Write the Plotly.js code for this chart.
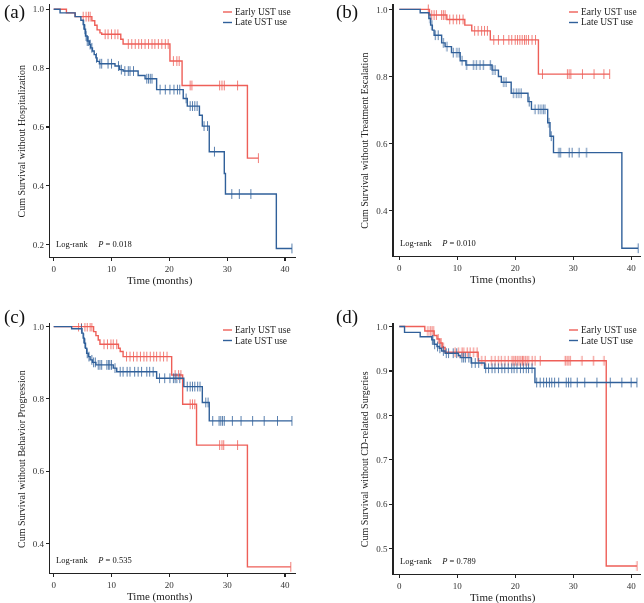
<!DOCTYPE html>
<html>
<head>
<meta charset="utf-8">
<script src="https://cdn.plot.ly/plotly-3.0.1.min.js"></script>
<style>
  html, body { margin: 0; padding: 0; background: #fff; }
  #chart { width: 644px; height: 603px; }
</style>
</head>
<body>
<div id="chart"></div>
<script>
// Series names
const groups = ['Early UST use', 'Late UST use'];
const groupColors = ['#EE5F58', '#30609A'];

// (a) Hospitalization
const aEarlyT = [0, 2.2, 3.7, 6.6, 7.1, 7.5, 8.0, 8.3, 11.6, 12.0, 20.1, 22.2, 33.5];
const aEarlyS = [1, 0.988, 0.975, 0.961, 0.946, 0.93, 0.92, 0.915, 0.898, 0.882, 0.824, 0.741, 0.494];
const aEarlyEnd = 35.4;
const aEarlyCens = [5.1, 5.6, 6.0, 6.3, 8.9, 9.4, 10.0, 10.6, 11.1, 12.9, 13.5, 14.1, 14.7, 15.2, 15.8, 16.4, 17.0, 17.5, 18.1, 18.7, 19.3, 19.8, 20.7, 21.3, 21.7, 23.6, 23.9, 28.7, 29.1, 29.5, 31.8, 35.4];
const aLateT = [0, 1.1, 3.7, 4.7, 5.1, 5.3, 5.5, 5.8, 6.2, 6.4, 6.7, 7.0, 7.3, 7.5, 7.9, 10.6, 11.4, 12.0, 14.6, 15.8, 17.8, 22.4, 23.1, 25.2, 25.7, 26.9, 29.5, 29.7, 38.5];
const aLateS = [1, 0.988, 0.975, 0.963, 0.948, 0.932, 0.909, 0.892, 0.88, 0.869, 0.858, 0.846, 0.835, 0.823, 0.815, 0.807, 0.795, 0.79, 0.775, 0.764, 0.727, 0.697, 0.671, 0.64, 0.603, 0.516, 0.442, 0.372, 0.187];
const aLateEnd = 41.2;
const aLateCens = [5.2, 5.4, 5.6, 5.8, 6.0, 6.3, 6.6, 7.4, 8.0, 8.3, 9.4, 10.0, 11.2, 11.7, 12.3, 12.9, 13.2, 13.8, 16.1, 16.4, 16.7, 17.0, 18.4, 19.3, 20.1, 20.8, 21.4, 21.8, 22.9, 23.6, 24.0, 24.4, 24.8, 26.0, 26.6, 27.8, 30.8, 32.1, 34.1, 41.2];

// (b) Treatment escalation
const bEarlyT = [0, 5.2, 8.2, 11.3, 12.5, 15.7, 24.0];
const bEarlyS = [1, 0.983, 0.97, 0.953, 0.936, 0.909, 0.807];
const bEarlyEnd = 36.3;
const bEarlyCens = [5.0, 5.6, 6.0, 6.4, 7.3, 7.6, 7.9, 8.7, 9.3, 9.9, 10.4, 11.0, 13.0, 13.6, 14.2, 14.7, 15.2, 16.3, 17.1, 18.0, 18.9, 19.4, 20.0, 20.4, 20.8, 21.2, 21.6, 21.9, 22.3, 22.9, 23.5, 24.7, 29.0, 29.3, 29.6, 31.6, 33.6, 35.3, 36.3];
const bLateT = [0, 3.6, 5.1, 5.4, 5.7, 6.0, 7.3, 7.9, 9.0, 10.5, 11.5, 16.0, 17.1, 17.6, 19.3, 22.2, 22.8, 25.6, 26.0, 26.6, 38.4];
const bLateS = [1, 0.99, 0.973, 0.953, 0.938, 0.923, 0.90, 0.889, 0.871, 0.847, 0.834, 0.819, 0.80, 0.783, 0.75, 0.725, 0.702, 0.662, 0.622, 0.573, 0.288];
const bLateEnd = 41.2;
const bLateCens = [5.3, 5.6, 6.2, 6.7, 7.6, 8.2, 9.3, 9.9, 10.3, 10.8, 11.6, 12.8, 13.3, 13.9, 14.5, 15.7, 16.1, 16.5, 18.0, 18.4, 19.7, 20.2, 20.6, 21.0, 22.4, 23.4, 24.0, 24.4, 24.8, 25.1, 25.8, 26.2, 27.5, 27.8, 29.3, 29.8, 31.0, 32.3, 41.2];

// (c) Behavior progression
const cEarlyT = [0, 6.9, 7.3, 7.7, 8.0, 11.2, 11.5, 12.0, 20.4, 22.3, 24.7, 33.5];
const cEarlyS = [1, 0.986, 0.975, 0.963, 0.951, 0.94, 0.931, 0.917, 0.866, 0.785, 0.672, 0.335];
const cEarlyEnd = 41.0;
const cEarlyCens = [4.3, 4.8, 5.4, 5.8, 6.3, 6.6, 8.7, 9.3, 9.9, 10.3, 10.9, 12.6, 13.2, 13.8, 14.4, 15.0, 15.6, 16.1, 16.7, 17.3, 17.8, 18.4, 19.0, 19.6, 21.0, 21.6, 22.0, 23.6, 24.0, 24.4, 28.7, 29.1, 29.4, 31.8, 41.0];
const cLateT = [0, 3.1, 4.9, 5.1, 5.3, 5.5, 5.7, 6.0, 6.3, 6.7, 7.3, 10.3, 10.9, 17.8, 22.5, 25.7, 26.9];
const cLateS = [1, 0.994, 0.982, 0.968, 0.954, 0.94, 0.926, 0.917, 0.908, 0.901, 0.894, 0.885, 0.875, 0.857, 0.834, 0.79, 0.739];
const cLateEnd = 41.2;
const cLateCens = [4.8, 5.2, 5.4, 5.8, 6.1, 6.6, 6.9, 7.2, 7.7, 8.0, 8.3, 9.2, 9.5, 9.7, 10.0, 10.6, 11.5, 12.0, 12.7, 13.2, 14.0, 14.6, 15.2, 16.1, 16.6, 17.2, 18.3, 19.2, 20.1, 20.7, 21.0, 21.3, 21.8, 23.1, 23.6, 24.0, 24.4, 24.9, 25.3, 26.3, 26.7, 27.5, 28.6, 28.9, 29.2, 29.5, 30.9, 32.4, 34.4, 36.4, 38.7, 41.2];

// (d) CD-related surgeries
const dEarlyT = [0, 4.4, 6.0, 6.5, 7.0, 7.4, 7.9, 13.6, 35.7];
const dEarlyS = [1, 0.99, 0.98, 0.972, 0.963, 0.953, 0.942, 0.923, 0.461];
const dEarlyEnd = 41.0;
const dEarlyCens = [4.9, 5.3, 5.6, 5.9, 6.7, 7.2, 7.6, 9.6, 10.2, 10.8, 11.1, 11.7, 12.2, 12.8, 13.4, 14.2, 14.8, 15.9, 16.5, 17.1, 17.6, 18.2, 18.8, 19.4, 19.7, 20.0, 20.3, 20.6, 20.9, 21.2, 21.4, 21.7, 22.0, 22.3, 22.9, 23.4, 24.3, 28.6, 28.9, 29.2, 29.5, 31.5, 33.5, 35.3, 41.0];
const dLateT = [0, 0.9, 3.6, 5.6, 6.0, 6.5, 6.9, 7.3, 7.9, 10.2, 10.5, 12.4, 14.7, 23.4];
const dLateS = [1, 0.987, 0.977, 0.97, 0.96, 0.955, 0.951, 0.945, 0.94, 0.935, 0.93, 0.918, 0.906, 0.874];
const dLateEnd = 41.0;
const dLateCens = [5.7, 5.8, 6.1, 6.6, 7.0, 7.6, 8.1, 8.5, 9.3, 9.9, 10.8, 11.1, 11.4, 12.0, 12.5, 13.1, 13.7, 14.9, 15.4, 16.0, 16.5, 17.1, 17.7, 18.2, 18.8, 19.4, 19.8, 20.3, 20.9, 21.4, 21.9, 22.3, 22.9, 23.7, 24.3, 24.9, 25.4, 25.9, 26.3, 26.8, 27.5, 28.8, 29.2, 29.6, 30.7, 32.0, 34.1, 36.4, 38.4, 40.0, 41.0];

const panelLabels = ['(a)', '(b)', '(c)', '(d)'];
const yTitles = ['Cum Survival without Hospitalization', 'Cum Survival without Treatment Escalation',
                 'Cum Survival without Behavior Progression', 'Cum Survival without CD-related Surgeries'];
const pValues = ['0.018', '0.010', '0.535', '0.789'];

const curves = [
  [[aEarlyT, aEarlyS, aEarlyEnd, aEarlyCens], [aLateT, aLateS, aLateEnd, aLateCens]],
  [[bEarlyT, bEarlyS, bEarlyEnd, bEarlyCens], [bLateT, bLateS, bLateEnd, bLateCens]],
  [[cEarlyT, cEarlyS, cEarlyEnd, cEarlyCens], [cLateT, cLateS, cLateEnd, cLateCens]],
  [[dEarlyT, dEarlyS, dEarlyEnd, dEarlyCens], [dLateT, dLateS, dLateEnd, dLateCens]]
];

// Layout geometry in pixels (figure is 644x603)
const W = 644, H = 603;
const panels = [
  { xdom: [50, 296],    ydom: [4, 257],   xr: [-0.64, 41.9], yr: [0.158, 1.018], dy: 0.2, label: [2, 12],     legX: 234, legY: 12 },
  { xdom: [393.7, 641], ydom: [4, 256],   xr: [-0.97, 41.7], yr: [0.265, 1.016], dy: 0.2, label: [334, 12],   legX: 580, legY: 12 },
  { xdom: [50, 296],    ydom: [323, 573], xr: [-0.64, 41.9], yr: [0.318, 1.010], dy: 0.2, label: [2, 316.5],  legX: 234, legY: 330 },
  { xdom: [393.7, 641], ydom: [323, 574], xr: [-0.97, 41.7], yr: [0.443, 1.008], dy: 0.1, label: [334, 316.5], legX: 580, legY: 330 }
];

const serif = 'Liberation Serif, Times New Roman, serif';
const px = v => v / W;
const py = v => 1 - v / H;

function survAt(t, s, time) {
  let v = s[0];
  for (let i = 0; i < t.length; i++) { if (t[i] <= time) v = s[i]; }
  return v;
}

const traces = [];
const layout = {
  width: W, height: H,
  margin: { l: 0, r: 0, t: 0, b: 0 },
  paper_bgcolor: '#fff', plot_bgcolor: '#fff',
  showlegend: false,
  annotations: [], shapes: []
};

panels.forEach((p, i) => {
  const n = i === 0 ? '' : String(i + 1);
  const xa = 'x' + n, ya = 'y' + n;
  const axCommon = {
    showgrid: false, zeroline: false, showline: true, linecolor: '#222', linewidth: 1.3,
    ticks: 'outside', ticklen: 3, tickwidth: 1.1, tickcolor: '#222',
    tickfont: { family: serif, size: 9, color: '#333' }
  };
  layout['xaxis' + n] = Object.assign({}, axCommon, {
    domain: [px(p.xdom[0]), px(p.xdom[1])], range: p.xr, anchor: ya,
    tick0: 0, dtick: 10
  });
  layout['yaxis' + n] = Object.assign({}, axCommon, {
    domain: [py(p.ydom[1]), py(p.ydom[0])], range: p.yr, anchor: xa,
    tick0: 0, dtick: p.dy, tickformat: '.1f'
  });

  curves[i].forEach((c, g) => {
    const [t, s, end, cens] = c;
    traces.push({
      x: t.concat([end]), y: s.concat([s[s.length - 1]]),
      xaxis: xa, yaxis: ya, type: 'scatter', mode: 'lines',
      line: { shape: 'hv', color: groupColors[g], width: 1.4 },
      name: groups[g], hoverinfo: 'skip'
    });
    traces.push({
      x: cens, y: cens.map(v => survAt(t, s, v)),
      xaxis: xa, yaxis: ya, type: 'scatter', mode: 'markers',
      marker: { symbol: 'line-ns', size: 7, line: { color: groupColors[g], width: 1 } },
      opacity: 0.8, hoverinfo: 'skip', name: groups[g] + ' censored'
    });
  });

  // panel label
  layout.annotations.push({
    xref: 'paper', yref: 'paper', x: px(p.label[0]), y: py(p.label[1]),
    xanchor: 'left', yanchor: 'middle', showarrow: false,
    text: panelLabels[i], font: { family: serif, size: 19, color: '#111' }
  });
  // y title
  layout.annotations.push({
    xref: 'paper', yref: 'paper', x: px(p.xdom[0] - 29), y: py((p.ydom[0] + p.ydom[1]) / 2 + 11),
    xanchor: 'center', yanchor: 'middle', showarrow: false, textangle: -90,
    text: yTitles[i], font: { family: serif, size: 10, color: '#222' }
  });
  // x title
  layout.annotations.push({
    xref: 'paper', yref: 'paper', x: px(p.xdom[0] + 109.5), y: py(p.ydom[1] + 23.5),
    xanchor: 'center', yanchor: 'middle', showarrow: false, borderpad: 0,
    text: 'Time (months)', font: { family: serif, size: 11, color: '#222' }
  });
  // log-rank text
  layout.annotations.push({
    xref: 'paper', yref: 'paper', x: px(p.xdom[0] + 4), y: py(p.ydom[1] - 13),
    xanchor: 'left', yanchor: 'middle', showarrow: false,
    text: 'Log-rank&nbsp;&nbsp;&nbsp;&nbsp;&nbsp;<i>P</i> = ' + pValues[i],
    font: { family: serif, size: 8.5, color: '#111' }
  });
  // legend built by hand
  groups.forEach((gName, g) => {
    const ly = p.legY + g * 10.5;
    layout.shapes.push({
      type: 'line', xref: 'paper', yref: 'paper',
      x0: px(p.legX - 11), x1: px(p.legX - 2), y0: py(ly), y1: py(ly),
      line: { color: groupColors[g], width: 1.4 }
    });
    layout.annotations.push({
      xref: 'paper', yref: 'paper', x: px(p.legX), y: py(ly),
      xanchor: 'left', yanchor: 'middle', showarrow: false, borderpad: 0,
      text: gName, font: { family: serif, size: 9.5, color: '#222' }
    });
  });
});

Plotly.newPlot('chart', traces, layout, { displayModeBar: false, staticPlot: true });
</script>
</body>
</html>
